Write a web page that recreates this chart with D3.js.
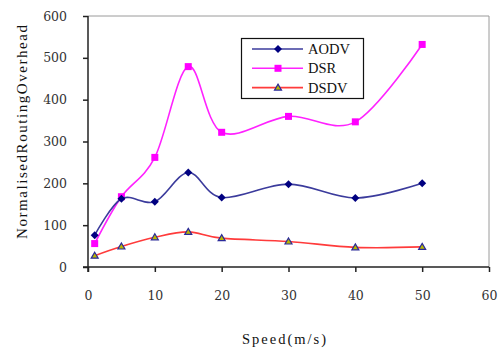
<!DOCTYPE html>
<html><head><meta charset="utf-8">
<script src="https://cdn.jsdelivr.net/npm/d3@7"></script>
<style>body{margin:0;background:#fff}svg{display:block}</style>
</head><body>
<script>
const speeds = [1, 5, 10, 15, 20, 30, 40, 50];
const aodv = [76, 163, 156, 226, 166, 198, 165, 200];
const dsr = [56, 168, 262, 479, 322, 360, 347, 532];
const dsdv = [27, 49, 71, 84, 69, 61, 47, 48];
const seriesNames = ["AODV", "DSR", "DSDV"];
const xTicks = [0, 10, 20, 30, 40, 50, 60];
const yTicks = [0, 100, 200, 300, 400, 500, 600];

const W = 500, H = 352;
const svg = d3.select("body").append("svg").attr("width", W).attr("height", H);
const x = d3.scaleLinear().domain([0, 60]).range([88, 489]);
const y = d3.scaleLinear().domain([0, 600]).range([267, 16]);

// frame
svg.append("path").attr("d", `M${x(0)},${y(600)}H${x(60)}V${y(0)}`)
  .attr("fill", "none").attr("stroke", "#9a9a9a").attr("stroke-width", 1);

const tickFont = "DejaVu Serif";
const yAxis = svg.append("g").attr("transform", `translate(${x(0)},0)`)
  .call(d3.axisLeft(y).tickValues(yTicks).tickSize(5).tickPadding(16));
const xAxis = svg.append("g").attr("transform", `translate(0,${y(0)})`)
  .call(d3.axisBottom(x).tickValues(xTicks).tickSize(5).tickPadding(19));
[yAxis, xAxis].forEach(g => {
  g.select(".domain").remove();
  g.selectAll("line").attr("stroke", "#222").attr("stroke-width", 1.5);
  g.selectAll("text").attr("font-family", tickFont).attr("font-size", 12.5).attr("fill", "#333");
});
// axis lines
svg.append("line").attr("x1", x(0)).attr("x2", x(0)).attr("y1", y(600)).attr("y2", y(0) + 5)
  .attr("stroke", "#222").attr("stroke-width", 1.5);
svg.append("line").attr("x1", x(0) - 5).attr("x2", x(60)).attr("y1", y(0)).attr("y2", y(0))
  .attr("stroke", "#222").attr("stroke-width", 1.5);

// titles
svg.append("text").attr("x", 284).attr("y", 344).attr("text-anchor", "middle")
  .attr("font-family", "Liberation Serif").attr("font-size", 14.5).attr("fill", "#111")
  .attr("textLength", 84).attr("lengthAdjust", "spacing").text("Speed(m/s)");
svg.append("text").attr("transform", "translate(27,132) rotate(-90)").attr("text-anchor", "middle")
  .attr("font-family", "Liberation Serif").attr("font-size", 15).attr("fill", "#111")
  .attr("textLength", 214).attr("lengthAdjust", "spacing").text("NormalisedRoutingOverhead");

const line = d3.line().x(d => x(d[0])).y(d => y(d[1])).curve(d3.curveCardinal.tension(0));
const sets = [
  {name: seriesNames[0], vals: aodv, color: "#3b3b9c", marker: "diamond"},
  {name: seriesNames[1], vals: dsr, color: "#ff22ff", marker: "square"},
  {name: seriesNames[2], vals: dsdv, color: "#ff3b3b", marker: "triangle"}
];
function drawMarker(g, type, cx, cy) {
  if (type === "diamond") {
    g.append("path").attr("d", `M${cx},${cy-4}L${cx+4},${cy}L${cx},${cy+4}L${cx-4},${cy}Z`)
      .attr("fill", "#000080");
  } else if (type === "square") {
    g.append("rect").attr("x", cx - 3.5).attr("y", cy - 3.5).attr("width", 7).attr("height", 7)
      .attr("fill", "#ff00ff");
  } else {
    g.append("path").attr("d", `M${cx},${cy-3.5}L${cx+3.5},${cy+2.5}L${cx-3.5},${cy+2.5}Z`)
      .attr("fill", "#b8b800").attr("stroke", "#2a2a9a").attr("stroke-width", 1.2);
  }
}
// draw DSDV, DSR, AODV order
[sets[2], sets[1], sets[0]].forEach(s => {
  const pts = speeds.map((sp, i) => [sp, s.vals[i]]);
  svg.append("path").attr("d", line(pts)).attr("fill", "none")
    .attr("stroke", s.color).attr("stroke-width", 1.6);
  const g = svg.append("g");
  pts.forEach(p => drawMarker(g, s.marker, x(p[0]), y(p[1])));
});

// legend
const lg = svg.append("g");
lg.append("rect").attr("x", 241.5).attr("y", 38.5).attr("width", 122).attr("height", 60)
  .attr("fill", "#fff").attr("stroke", "#111").attr("stroke-width", 1.2);
sets.forEach((s, i) => {
  const yy = 49 + i * 19.3;
  lg.append("line").attr("x1", 252).attr("x2", 303).attr("y1", yy).attr("y2", yy)
    .attr("stroke", s.color).attr("stroke-width", 1.6);
  drawMarker(lg, s.marker, 278, yy);
  lg.append("text").attr("x", 308).attr("y", yy + 5).attr("font-family", "Liberation Serif")
    .attr("font-size", 14.5).attr("fill", "#111").text(s.name);
});
</script>
</body></html>
